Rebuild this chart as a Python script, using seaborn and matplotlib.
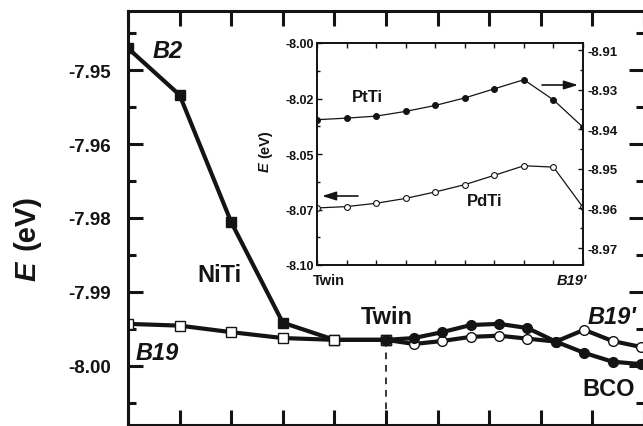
import numpy as np
import pandas as pd
import matplotlib
matplotlib.use("Agg")
import matplotlib.pyplot as plt
import seaborn as sns
from matplotlib.ticker import FixedLocator, FixedFormatter

# ---- main panel data (NiTi) ----
left_x = [0, 1, 2, 3, 4, 5]
b2_e = [-7.9463, -7.9542, -7.9757, -7.9927, -7.9956, -7.9956]
b19_e = [-7.9929, -7.9932, -7.9943, -7.9953, -7.9956, -7.9956]

path_x = [5.0, 5.54, 6.09, 6.64, 7.19, 7.74, 8.29, 8.84, 9.39, 9.94]
bco_e = [-7.9956, -7.9953, -7.9943, -7.9931, -7.9929, -7.9936, -7.9959, -7.9978, -7.9993, -7.9997]
b19p_e = [-7.9956, -7.9963, -7.9958, -7.9951, -7.9949, -7.9954, -7.9959, -7.9939, -7.9958, -7.9968]

twin_x = 5
twin_e = -7.9956

main_yticks = [-7.95, -7.9625, -7.975, -7.9875, -8.00]
main_ylabels = ["-7.95", "-7.96", "-7.98", "-7.99", "-8.00"]

# ---- inset data (PtTi right axis, PdTi left axis) ----
inset_x = [0, 1, 2, 3, 4, 5, 6, 7, 8, 9]
ptti_e = [-8.9276, -8.9272, -8.9267, -8.9255, -8.9240, -8.9221, -8.9198, -8.9175, -8.9226, -8.9295]
pdti_e = [-8.0743, -8.0737, -8.0722, -8.0700, -8.0671, -8.0638, -8.0596, -8.0553, -8.0559, -8.0740]

inset_lticks = [-8.00, -8.025, -8.05, -8.075, -8.10]
inset_llabels = ["-8.00", "-8.02", "-8.05", "-8.07", "-8.10"]
inset_rticks = [-8.91, -8.92, -8.93, -8.94, -8.95, -8.96]
inset_rlabels = ["-8.91", "-8.93", "-8.94", "-8.95", "-8.96", "-8.97"]

sns.set_style("ticks")
plt.rcParams["font.family"] = ["Liberation Sans", "DejaVu Sans"]
plt.rcParams["font.weight"] = "bold"

W, H = 643, 427
fig = plt.figure(figsize=(W / 100, H / 100), dpi=100)


def fx(px):
    return px / W


def fy(py):
    return 1 - py / H


ink = "#141414"

# ============================================================
# main axes
# ============================================================
ax = fig.add_axes([fx(128), fy(426), fx(644) - fx(128), fy(12) - fy(426)])

# dashed marker for the twin state
ax.plot([twin_x, twin_x], [twin_e, -8.02], ls=(0, (4, 3.5)), lw=1.2, color=ink, zorder=1)

line_kw = dict(color=ink, lw=3, sort=False, estimator=None, markeredgewidth=1.0,
               markeredgecolor=ink, ax=ax)
sns.lineplot(x=left_x, y=b2_e, marker="s", markersize=6.5, markerfacecolor=ink, **line_kw)
sns.lineplot(x=left_x, y=b19_e, marker="s", markersize=6.5, markerfacecolor="white", **line_kw)
sns.lineplot(x=path_x, y=b19p_e, marker="o", markersize=7, markerfacecolor="white", **line_kw)
sns.lineplot(x=path_x, y=bco_e, marker="o", markersize=7, markerfacecolor=ink, **line_kw)

ax.set_xlim(0, 10)
ax.set_ylim(-8.01, -7.94)
ax.set_xticks(range(0, 11))
ax.set_xticklabels([])
ax.yaxis.set_major_locator(FixedLocator(main_yticks))
ax.yaxis.set_major_formatter(FixedFormatter(main_ylabels))
ax.yaxis.set_minor_locator(FixedLocator([t + 0.00625 for t in main_yticks] + [-8.00625]))
ax.tick_params(axis="both", which="major", direction="in", length=11, width=2.2,
               top=True, right=True, color=ink)
ax.tick_params(axis="y", which="minor", direction="in", length=6, width=2.2,
               right=True, color=ink)
ax.tick_params(axis="y", labelsize=13.5, pad=12, labelcolor=ink)
for s in ax.spines.values():
    s.set_linewidth(2.2)
    s.set_color(ink)
ax.set_ylabel("")

# y label: italic E + (eV)
fig.text(fx(27), fy(271), "E", rotation=90, ha="center", va="center",
         fontsize=21, fontweight="bold", fontstyle="italic", color=ink)
fig.text(fx(27), fy(223), "(eV)", rotation=90, ha="center", va="center",
         fontsize=21, fontweight="bold", color=ink)

big = dict(fontsize=17, fontweight="bold", color=ink, ha="center", va="center")
fig.text(fx(168), fy(52), "B2", fontstyle="italic", **big)
fig.text(fx(219), fy(275), "NiTi", **big)
fig.text(fx(157), fy(353), "B19", fontstyle="italic", **big)
fig.text(fx(387), fy(317), "Twin", **big)
fig.text(fx(612), fy(317), "B19'", fontstyle="italic", **big)
fig.text(fx(609), fy(390), "BCO", **big)

# ============================================================
# inset
# ============================================================
axi = fig.add_axes([fx(317), fy(266), fx(583) - fx(317), fy(44) - fy(266)])
axr = axi.twinx()

small_kw = dict(color=ink, lw=0.9, sort=False, estimator=None, markeredgewidth=0.8,
                markeredgecolor=ink)
sns.lineplot(x=inset_x, y=pdti_e, marker="o", markersize=4.2, markerfacecolor="white",
             ax=axi, **small_kw)
sns.lineplot(x=inset_x, y=ptti_e, marker="o", markersize=4.2, markerfacecolor=ink,
             ax=axr, **small_kw)

axi.set_xlim(0, 9)
axi.set_ylim(-8.10, -8.00)
axr.set_ylim(-8.96429, -8.90823)
axi.set_xticks(inset_x)
axi.set_xticklabels([])
axi.yaxis.set_major_locator(FixedLocator(inset_lticks))
axi.yaxis.set_major_formatter(FixedFormatter(inset_llabels))
axi.yaxis.set_minor_locator(FixedLocator([t - 0.0125 for t in inset_lticks[:-1]]))
axr.yaxis.set_major_locator(FixedLocator(inset_rticks))
axr.yaxis.set_major_formatter(FixedFormatter(inset_rlabels))
axr.yaxis.set_minor_locator(FixedLocator([t - 0.005 for t in inset_rticks]))

axi.tick_params(axis="x", which="major", direction="in", length=3.5, width=1, top=True,
                color=ink)
axi.tick_params(axis="y", which="major", direction="in", length=3.5, width=1,
                labelsize=9, pad=2, color=ink, labelcolor=ink)
axi.tick_params(axis="y", which="minor", direction="in", length=2, width=1, color=ink)
axr.tick_params(axis="y", which="major", direction="in", length=3.5, width=1,
                labelsize=9.5, pad=3, color=ink, labelcolor=ink)
axr.tick_params(axis="y", which="minor", direction="in", length=2, width=1, color=ink)
for a in (axi, axr):
    a.set_ylabel("")
    for s in a.spines.values():
        s.set_linewidth(1.3)
        s.set_color(ink)

fig.text(fx(265), fy(167), "E", rotation=90, ha="center", va="center",
         fontsize=10.5, fontweight="bold", fontstyle="italic", color=ink)
fig.text(fx(265), fy(144), "(eV)", rotation=90, ha="center", va="center",
         fontsize=10.5, fontweight="bold", color=ink)

mid = dict(fontsize=12, fontweight="bold", color=ink, ha="center", va="center")
fig.text(fx(367), fy(97), "PtTi", **mid)
fig.text(fx(485), fy(202), "PdTi", **mid)
fig.text(fx(329), fy(281), "Twin", fontsize=10.5, fontweight="bold", color=ink,
         ha="center", va="center")
fig.text(fx(572), fy(281), "B19'", fontsize=10.5, fontweight="bold", fontstyle="italic",
         color=ink, ha="center", va="center")

arrow = dict(arrowstyle="-|>,head_length=0.7,head_width=0.22", lw=1.2, color=ink,
             shrinkA=0, shrinkB=0, mutation_scale=12)
axi.annotate("", xy=(fx(322), fy(197)), xytext=(fx(358), fy(197)),
             xycoords="figure fraction", textcoords="figure fraction", arrowprops=arrow)
axi.annotate("", xy=(fx(578), fy(86)), xytext=(fx(542), fy(86)),
             xycoords="figure fraction", textcoords="figure fraction", arrowprops=arrow)

fig.savefig("out.png", dpi=100)
